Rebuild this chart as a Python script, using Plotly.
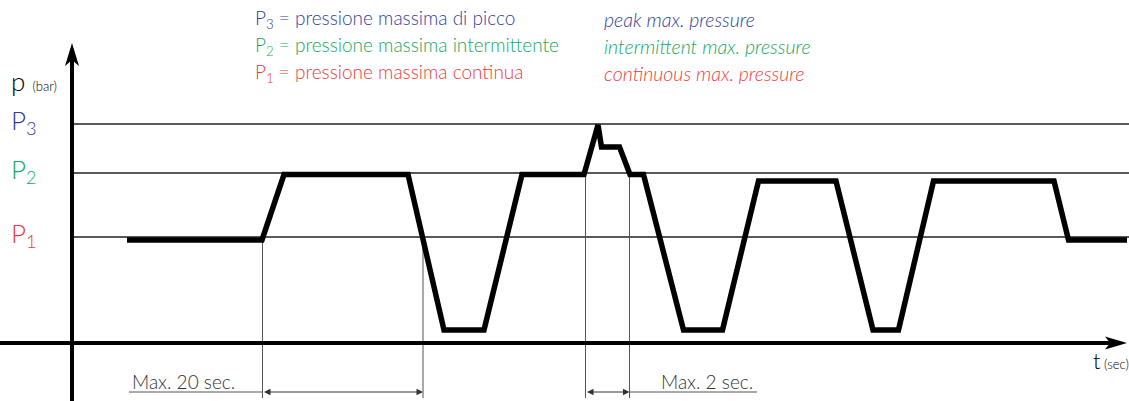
import plotly.graph_objects as go

# ---- data (time units / relative pressure units) ----
t_wave = [55, 190, 212, 336, 372, 412, 450, 512, 526, 529.5, 547.5, 558, 571.5,
          611.5, 650.5, 686.5, 764, 801, 826.5, 861.5, 982, 996.5, 1055]
p_wave = [103, 103, 168.5, 168.5, 13, 13, 168.5, 168.5, 218, 196, 196, 168.5, 168.5,
          13, 13, 162, 162, 13, 13, 162, 162, 103, 103]

level_values = [106, 170, 219]            # P1, P2, P3
level_labels = ["P<sub>1</sub>", "P<sub>2</sub>", "P<sub>3</sub>"]
level_colors = ["#ee3a3a", "#14a862", "#2e3e9a"]
it_desc = ["pressione massima continua", "pressione massima intermittente", "pressione massima di picco"]
en_desc = ["continuous max. pressure", "intermittent max. pressure", "peak max. pressure"]

marker_t = [190.5, 351, 513.5, 557.5]
marker_top = [103, 106, 170, 170]
dim_labels = ["Max. 20 sec.", "Max. 2 sec."]

T_MIN, T_MAX = -72, 1057
P_MIN, P_MAX = -58, 343

FONT = "Lato"
fig = go.Figure()

# reference levels
for v in level_values:
    fig.add_trace(go.Scatter(x=[0, T_MAX], y=[v, v], mode="lines",
                             line=dict(color="#222", width=1.5), hoverinfo="skip", showlegend=False))

# vertical marker lines
for t, top in zip(marker_t, marker_top):
    fig.add_trace(go.Scatter(x=[t, t], y=[top, -55], mode="lines",
                             line=dict(color="#555", width=1), hoverinfo="skip", showlegend=False))

# underlines for dimension labels
fig.add_trace(go.Scatter(x=[57, marker_t[0]], y=[-49, -49], mode="lines",
                         line=dict(color="#555", width=1), hoverinfo="skip", showlegend=False))
fig.add_trace(go.Scatter(x=[marker_t[3], 685], y=[-49, -49], mode="lines",
                         line=dict(color="#555", width=1), hoverinfo="skip", showlegend=False))

# waveform
fig.add_trace(go.Scatter(x=t_wave, y=p_wave, mode="lines",
                         line=dict(color="black", width=5.5), hoverinfo="skip", showlegend=False))

# axes shafts
fig.add_trace(go.Scatter(x=[0, 0], y=[P_MIN, 285], mode="lines",
                         line=dict(color="black", width=4), hoverinfo="skip", showlegend=False))
fig.add_trace(go.Scatter(x=[T_MIN, 1040], y=[0, 0], mode="lines",
                         line=dict(color="black", width=4), hoverinfo="skip", showlegend=False))

shapes = [
    dict(type="path", xref="x", yref="y", path="M 0,300 L -7,277 L 0,283 L 7,277 Z",
         fillcolor="black", line=dict(width=0)),
    dict(type="path", xref="x", yref="y", path="M 1055,0 L 1033,6.5 L 1038,0 L 1033,-6.5 Z",
         fillcolor="black", line=dict(width=0)),
]

ann = []
# dimension arrows
for a, b in [(marker_t[0], marker_t[1]), (marker_t[2], marker_t[3])]:
    ann.append(dict(x=b, y=-49, ax=a, ay=-49, xref="x", yref="y", axref="x", ayref="y",
                    text="", showarrow=True, arrowhead=2, startarrowhead=2, arrowside="end+start",
                    arrowsize=1.3, startarrowsize=1.3, arrowwidth=1, arrowcolor="#333",
                    standoff=0, startstandoff=0))
# dimension labels
ann.append(dict(x=58, y=-38, xref="x", yref="y", text=dim_labels[0], showarrow=False,
                xanchor="left", yanchor="middle", font=dict(family=FONT, size=19, color="#333", weight=300)))
ann.append(dict(x=587, y=-38, xref="x", yref="y", text=dim_labels[1], showarrow=False,
                xanchor="left", yanchor="middle", font=dict(family=FONT, size=19, color="#333", weight=300)))

# legend rows
legend_y = [270, 297, 324]
for lab, col, it, en, yy in zip(level_labels, level_colors, it_desc, en_desc, legend_y):
    ann.append(dict(x=181, y=yy, xref="x", yref="y", text=f"{lab} = {it}", showarrow=False,
                    xanchor="left", yanchor="middle", font=dict(family=FONT, size=19, color=col, weight=300)))
    ann.append(dict(x=530, y=yy, xref="x", yref="y", text=f"<i>{en}</i>", showarrow=False,
                    xanchor="left", yanchor="middle", font=dict(family=FONT, size=19.5, color=col, weight=300)))

# left level labels
for lab, col, v in zip(level_labels, level_colors, level_values):
    ann.append(dict(x=-63, y=v + 3, xref="x", yref="y", text=lab, showarrow=False,
                    xanchor="left", yanchor="middle", font=dict(family=FONT, size=26, color=col, weight=300)))

# axis titles
ann.append(dict(x=-63, y=262, xref="x", yref="y",
                text="p<span style='font-size:13px'>  (bar)</span>", showarrow=False,
                xanchor="left", yanchor="middle", font=dict(family=FONT, size=26, color="black", weight=300)))
ann.append(dict(x=1019, y=-17, xref="x", yref="y",
                text="t<span style='font-size:13px'> (sec)</span>", showarrow=False,
                xanchor="left", yanchor="middle", font=dict(family=FONT, size=22, color="black", weight=300)))

fig.update_layout(
    width=1129, height=401, margin=dict(l=0, r=0, t=0, b=0),
    paper_bgcolor="white", plot_bgcolor="white",
    xaxis=dict(range=[T_MIN, T_MAX], visible=False, fixedrange=True),
    yaxis=dict(range=[P_MIN, P_MAX], visible=False, fixedrange=True),
    shapes=shapes, annotations=ann, showlegend=False,
)

fig.write_html("out.html", config={"displayModeBar": False},
               post_script="document.body.style.margin='0px';document.body.style.overflow='hidden';")
